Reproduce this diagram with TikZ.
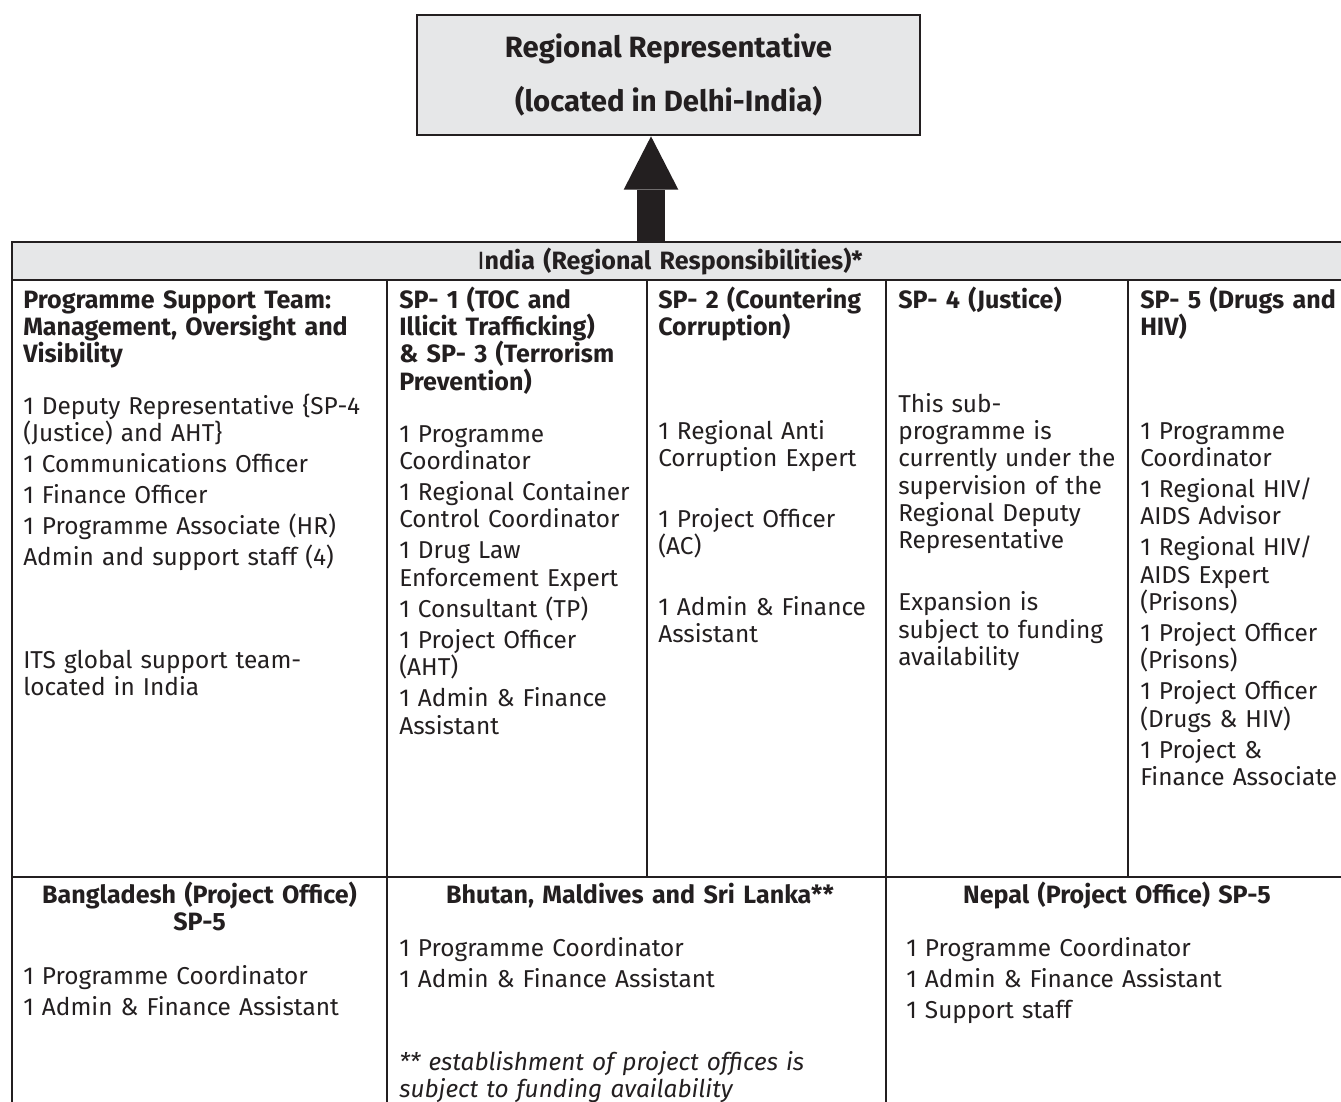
\documentclass[tikz,border=0pt]{standalone}
\usepackage{fontspec}
\setmainfont{Fira Sans}
\usetikzlibrary{arrows.meta}
\definecolor{cellgray}{HTML}{E6E7E8}
\definecolor{ink}{HTML}{231F20}
\newcommand{\bodysize}{\fontsize{18.3}{20.5}\selectfont}
\newcommand{\titlesize}{\fontsize{18.8}{20.6}\selectfont}
\newcommand{\topsize}{\fontsize{22}{41}\selectfont}

\begin{document}
\begin{tikzpicture}[x=0.75pt,y=-0.75pt,
  rule/.style={ink, line width=1.9pt},
  txt/.style={anchor=base west, align=left, text width=360pt, inner sep=0pt, text=ink, font=\bodysize},
  ttl/.style={txt, font=\titlesize\bfseries},
  ctr/.style={ttl, anchor=base, align=center},
  bigarrow/.style={ink, line width=21.5pt, -{Triangle[width=41pt,length=40pt,line width=0pt]}}]
\useasboundingbox (0,0) rectangle (1341,1101);
\begin{scope}
\clip (0,0) rectangle (1341,1101);
\fill[cellgray] (12,242) rectangle (1345,280);
\draw[rule] (1345,242) -- (12,242) -- (12,1105);
\draw[rule] (12,280) -- (1345,280);
\draw[rule] (12,877) -- (1345,877);
\foreach \x in {647,1128}\draw[rule] (\x,280) -- (\x,877);
\foreach \x in {387,886}\draw[rule] (\x,280) -- (\x,1105);
\end{scope}
% top box and arrow
\node[draw=ink, line width=2pt, fill=cellgray, minimum width=377.25pt, minimum height=90pt,
  align=center, text=ink, font=\topsize\bfseries] (rr) at (668.5,75) {Regional Representative\\(located in Delhi-India)};
\coordinate (foot) at (651,241);
\draw[bigarrow] (foot) -- (foot |- rr.south);
\node[ctr] (india) at (670,269) {\textmd{I}ndia (Regional Responsibilities)*};
% India row
\node[ttl] (pstTitle) at (23,308) {Programme Support Team:\\Management, Oversight and\\Visibility};
\node[txt] (pstStaff) at (23,414) {1 Deputy Representative \{SP-4\\(Justice) and AHT\}\\[2.8pt]1 Communications Officer\\[2.8pt]1 Finance Officer\\[2.8pt]1 Programme Associate (HR)\\[2.8pt]Admin and support staff (4)};
\node[txt] (its) at (23,668) {ITS global support team-\\located in India};
\node[ttl] (spOneTitle) at (399,308) {SP- 1 (TOC and\\Illicit Trafficking)\\\& SP- 3 (Terrorism\\Prevention)};
\node[txt] (spOneStaff) at (399,442) {1 Programme\\Coordinator\\[2.8pt]1 Regional Container\\Control Coordinator\\[2.8pt]1 Drug Law\\Enforcement Expert\\[2.8pt]1 Consultant (TP)\\[2.8pt]1 Project Officer\\(AHT)\\[2.8pt]1 Admin \& Finance\\Assistant};
\node[ttl] (spTwoTitle) at (658,308) {SP- 2 (Countering\\Corruption)};
\node[txt] (spTwoStaff) at (658,439) {1 Regional Anti\\Corruption Expert\\[25pt]1 Project Officer\\(AC)\\[25pt]1 Admin \& Finance\\Assistant};
\node[ttl] (spFourTitle) at (898,308) {SP- 4 (Justice)};
\node[txt] (spFourNote) at (898,412) {This sub-\\programme is\\currently under the\\supervision of the\\Regional Deputy\\Representative\\[26pt]Expansion is\\subject to funding\\availability};
\node[ttl] (spFiveTitle) at (1140,308) {SP- 5 (Drugs and\\HIV)};
\node[txt] (spFiveStaff) at (1140,439) {1 Programme\\Coordinator\\[2.8pt]1 Regional HIV/\\AIDS Advisor\\[2.8pt]1 Regional HIV/\\AIDS Expert\\(Prisons)\\[2.8pt]1 Project Officer\\(Prisons)\\[2.8pt]1 Project Officer\\(Drugs \& HIV)\\[2.8pt]1 Project \&\\Finance Associate};
% country offices
\node[ctr] (bdTitle) at (199.5,903) {Bangladesh (Project Office)\\SP-5};
\node[txt] (bdStaff) at (23,984) {1 Programme Coordinator\\[2.8pt]1 Admin \& Finance Assistant};
\node[ctr] (bmsTitle) at (640,903) {Bhutan, Maldives and Sri Lanka**};
\node[txt] (bmsStaff) at (399,956) {1 Programme Coordinator\\[2.8pt]1 Admin \& Finance Assistant};
\node[txt, font=\bodysize\itshape] (bmsNote) at (399,1070) {** establishment of project offices is\\subject to funding availability};
\node[ctr] (npTitle) at (1117,903) {Nepal (Project Office) SP-5};
\node[txt] (npStaff) at (906,956) {1 Programme Coordinator\\[2.8pt]1 Admin \& Finance Assistant\\[2.8pt]1 Support staff};
\end{tikzpicture}
\end{document}
